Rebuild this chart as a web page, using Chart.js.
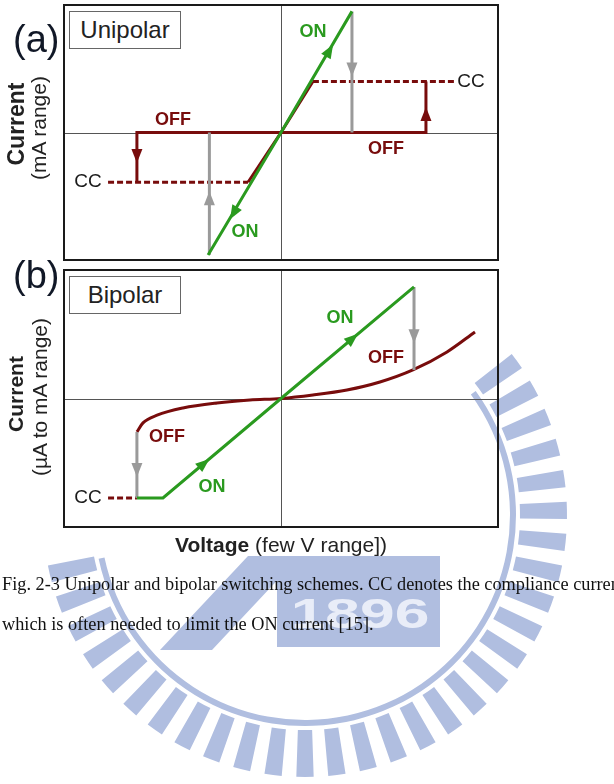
<!DOCTYPE html>
<html>
<head>
<meta charset="utf-8">
<script src="https://cdn.jsdelivr.net/npm/chart.js@4.4.1/dist/chart.umd.min.js"></script>
<style>
  body { margin: 0; background: #fff; width: 614px; height: 784px; overflow: hidden; position: relative;
         font-family: "Liberation Sans", Arial, sans-serif; }
  canvas { position: absolute; }
  .tag { position: absolute; font-size: 38px; color: #111827; line-height: 1; }
  .box { position: absolute; left: 69px; width: 110px; height: 36px; border: 1px solid #666; background: #fff;
         font-size: 24px; color: #222; line-height: 36px; text-align: center; }
  .ylab { position: absolute; transform: translate(-50%, -50%) rotate(-90deg); white-space: nowrap; color: #222; }
  .xlab { position: absolute; left: 281px; top: 545px; transform: translate(-50%, -50%); white-space: nowrap;
          font-size: 21px; color: #222; }
  .caption { position: absolute; left: 2px; font-family: "Liberation Serif", "Times New Roman", serif;
             font-size: 18.3px; white-space: nowrap; color: #111; }
</style>
</head>
<body>
<canvas id="mark" width="614" height="784" style="left:0;top:0"></canvas>
<canvas id="uni" width="438" height="259" style="left:62px;top:3px"></canvas>
<canvas id="bip" width="438" height="261" style="left:62px;top:268px"></canvas>

<div class="tag" style="left:13px;top:20px">(a)</div>
<div class="tag" style="left:13px;top:256px">(b)</div>
<div class="box" style="top:11px">Unipolar</div>
<div class="box" style="top:276px">Bipolar</div>

<div class="ylab" style="left:16px;top:124px;font-size:23px;font-weight:bold">Current</div>
<div class="ylab" style="left:39px;top:128px;font-size:21px">(mA range)</div>
<div class="ylab" style="left:16px;top:394px;font-size:21px;font-weight:bold">Current</div>
<div class="ylab" style="left:40px;top:397px;font-size:21px">(µA to mA range)</div>
<div class="xlab"><b>Voltage</b> (few V range])</div>

<div class="caption" style="top:574px">Fig. 2-3 Unipolar and bipolar switching schemes. CC denotes the compliance current</div>
<div class="caption" style="top:614px">which is often needed to limit the ON current [15].</div>

<script>
// axes are normalised: voltage and current both run -1..1 across each frame

// (a) unipolar
const uniOn = [[-0.336, -0.96], [0, 0], [0.327, 0.95]];
const uniOffNeg = [[-0.152, -0.39], [0, 0], [-0.664, 0], [-0.664, -0.39]];
const uniOffPos = [[0.147, 0.40], [0, 0], [0.668, 0], [0.668, 0.40]];
const uniCcNeg = [[-0.797, -0.39], [-0.152, -0.39]];
const uniCcPos = [[0.147, 0.40], [0.80, 0.40]];
const uniDropNeg = [[-0.33, -0.96], [-0.33, 0]];
const uniDropPos = [[0.327, 0.95], [0.327, 0]];

// (b) bipolar
const bipOn = [[-0.664, -0.774], [-0.544, -0.774], [0, 0], [0.613, 0.868]];
const bipOff = [[-0.664, -0.26], [-0.636, -0.19], [-0.571, -0.13], [-0.452, -0.074], [-0.295, -0.035],
                [-0.143, -0.012], [0, 0], [0.147, 0.027], [0.304, 0.066], [0.456, 0.128],
                [0.608, 0.222], [0.765, 0.362], [0.894, 0.518]];
const bipCc = [[-0.797, -0.774], [-0.664, -0.774]];
const bipDropNeg = [[-0.664, -0.26], [-0.664, -0.774]];
const bipDropPos = [[0.613, 0.868], [0.613, 0.222]];

// arrow heads: [tipV, tipI, fromV, fromI, series]
const uniArrows = [
  [0.24, 0.69, 0, 0, 'on'], [-0.235, -0.68, 0, 0, 'on'],
  [-0.33, -0.46, -0.33, -0.96, 'drop'], [0.327, 0.44, 0.327, 0.95, 'drop'],
  [-0.664, -0.24, -0.664, 0, 'off'], [0.668, 0.20, 0.668, 0, 'off']
];
const bipArrows = [
  [-0.33, -0.47, -0.544, -0.774, 'on'], [0.355, 0.503, 0, 0, 'on'],
  [-0.664, -0.61, -0.664, -0.26, 'drop'], [0.613, 0.43, 0.613, 0.868, 'drop']
];

// text labels: [text, V, I, series]
const uniLabels = [
  ['ON', 0.147, 0.79, 'on'], ['ON', -0.166, -0.78, 'on'],
  ['OFF', -0.498, 0.10, 'off'], ['OFF', 0.484, -0.13, 'off'],
  ['CC', -0.889, -0.39, 'cc'], ['CC', 0.876, 0.40, 'cc']
];
const bipLabels = [
  ['ON', 0.272, 0.626, 'on'], ['OFF', 0.484, 0.315, 'off'],
  ['OFF', -0.525, -0.30, 'off'], ['ON', -0.318, -0.689, 'on'],
  ['CC', -0.889, -0.774, 'cc']
];

const colors = { on: '#2a9a1f', off: '#780c0c', drop: '#9a9a9a', cc: '#1a1a1a' };

const pts = arr => arr.map(p => ({ x: p[0], y: p[1] }));

function series(arr, key, order, extra) {
  return Object.assign({
    data: pts(arr), showLine: true, borderColor: colors[key], backgroundColor: colors[key],
    borderWidth: 3, pointRadius: 0, order: order, borderCapStyle: 'butt', borderJoinStyle: 'miter'
  }, extra || {});
}

const marksPlugin = {
  id: 'marks',
  beforeDatasetsDraw(chart) {
    const { ctx, chartArea: a, scales: { x, y } } = chart;
    ctx.save();
    ctx.strokeStyle = '#555';
    ctx.lineWidth = 1;
    const x0 = Math.round(x.getPixelForValue(0)) + 0.5;
    const y0 = Math.round(y.getPixelForValue(0)) + 0.5;
    ctx.beginPath();
    ctx.moveTo(x0, a.top); ctx.lineTo(x0, a.bottom);
    ctx.moveTo(a.left, y0); ctx.lineTo(a.right, y0);
    ctx.stroke();
    ctx.restore();
  },
  afterDatasetsDraw(chart, args, opts) {
    const { ctx, chartArea: a, scales: { x, y } } = chart;
    ctx.save();
    opts.arrows.forEach(ar => {
      const tx = x.getPixelForValue(ar[0]), ty = y.getPixelForValue(ar[1]);
      const fx = x.getPixelForValue(ar[2]), fy = y.getPixelForValue(ar[3]);
      const ang = Math.atan2(ty - fy, tx - fx);
      ctx.save();
      ctx.translate(tx, ty);
      ctx.rotate(ang);
      ctx.fillStyle = colors[ar[4]];
      ctx.beginPath();
      ctx.moveTo(0, 0); ctx.lineTo(-14, -5.5); ctx.lineTo(-14, 5.5); ctx.closePath();
      ctx.fill();
      ctx.restore();
    });
    opts.labels.forEach(l => {
      const bold = l[3] !== 'cc';
      ctx.font = (bold ? 'bold 18px' : '19px') + ' "Liberation Sans", Arial, sans-serif';
      ctx.fillStyle = colors[l[3]];
      ctx.textAlign = 'center';
      ctx.textBaseline = 'middle';
      ctx.fillText(l[0], x.getPixelForValue(l[1]), y.getPixelForValue(l[2]));
    });
    // frame
    ctx.strokeStyle = '#1a1a1a';
    ctx.lineWidth = 2;
    ctx.strokeRect(a.left, a.top, a.right - a.left, a.bottom - a.top);
    ctx.restore();
  }
};

function makePanel(id, datasets, labels, arrows) {
  return new Chart(document.getElementById(id), {
    type: 'scatter',
    data: { datasets: datasets },
    options: {
      responsive: false,
      animation: false,
      events: [],
      layout: { padding: 2 },
      plugins: {
        legend: { display: false },
        tooltip: { enabled: false },
        marks: { labels: labels, arrows: arrows }
      },
      scales: {
        x: { type: 'linear', min: -1, max: 1, display: false },
        y: { type: 'linear', min: -1, max: 1, display: false }
      }
    },
    plugins: [marksPlugin]
  });
}

makePanel('uni', [
  series(uniOn, 'on', 0),
  series(uniDropNeg, 'drop', 1),
  series(uniDropPos, 'drop', 1),
  series(uniOffNeg, 'off', 2),
  series(uniOffPos, 'off', 2),
  series(uniCcNeg, 'off', 2, { borderDash: [6, 3] }),
  series(uniCcPos, 'off', 2, { borderDash: [6, 3] })
], uniLabels, uniArrows);

makePanel('bip', [
  series(bipOn, 'on', 0),
  series(bipDropNeg, 'drop', 1),
  series(bipDropPos, 'drop', 1),
  series(bipOff, 'off', 2, { tension: 0.4, cubicInterpolationMode: 'monotone' }),
  series(bipCc, 'off', 2, { borderDash: [6, 3] })
], bipLabels, bipArrows);

// faint university seal watermark behind the page
(function drawSeal() {
  const g = document.getElementById('mark').getContext('2d');
  const cx = 305, cy = 515, rad = Math.PI / 180;
  g.fillStyle = '#b0bee0';
  for (let a = -36; a <= 168; a += 7) {
    g.beginPath();
    g.arc(cx, cy, 262, (a - 1.9) * rad, (a + 1.9) * rad);
    g.arc(cx, cy, 215, (a + 1.9) * rad, (a - 1.9) * rad, true);
    g.closePath();
    g.fill();
  }
  g.beginPath();
  g.arc(cx, cy, 211, -36 * rad, 168 * rad);
  g.arc(cx, cy, 205, 168 * rad, -36 * rad, true);
  g.closePath();
  g.fill();
  g.fillRect(277, 556, 163, 91);
  g.beginPath();
  g.moveTo(160, 650); g.lineTo(212, 650); g.lineTo(300, 556); g.lineTo(248, 556);
  g.closePath();
  g.fill();
  g.save();
  g.fillStyle = '#e9edf8';
  g.font = 'bold 43px "Liberation Sans", Arial, sans-serif';
  g.textAlign = 'center';
  g.textBaseline = 'middle';
  g.translate(360, 616);
  g.scale(1.45, 1);
  g.fillText('1896', 0, 0);
  g.restore();
})();
</script>
</body>
</html>
